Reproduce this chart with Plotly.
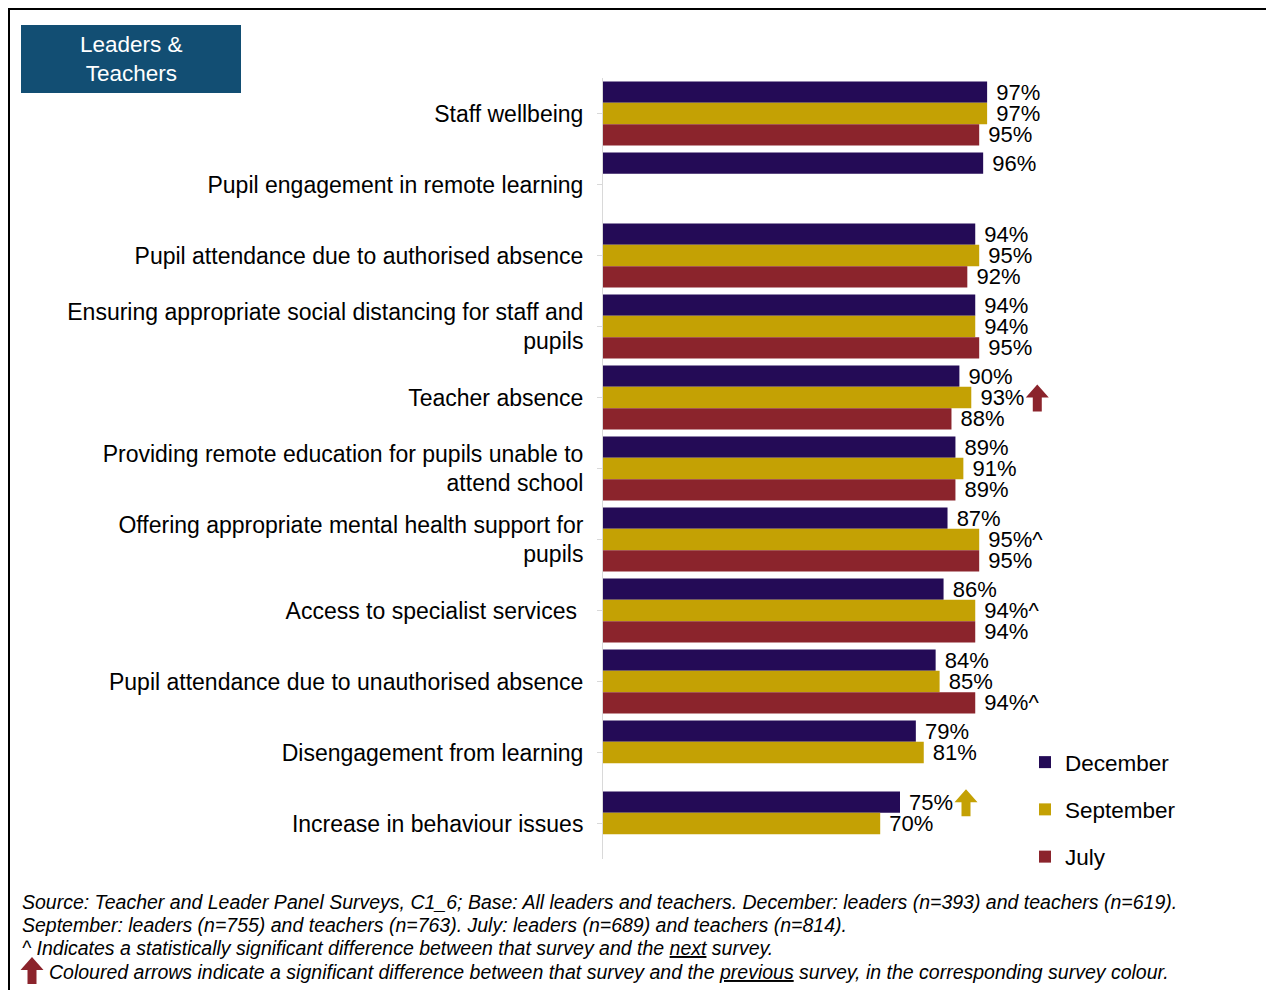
import plotly.graph_objects as go

categories = [
    "Staff wellbeing",
    "Pupil engagement in remote learning",
    "Pupil attendance due to authorised absence",
    "Ensuring appropriate social distancing for staff and<br>pupils",
    "Teacher absence",
    "Providing remote education for pupils unable to<br>attend school",
    "Offering appropriate mental health support for<br>pupils",
    "Access to specialist services\u00a0",
    "Pupil attendance due to unauthorised absence",
    "Disengagement from learning",
    "Increase in behaviour issues",
]
december = [97, 96, 94, 94, 90, 89, 87, 86, 84, 79, 75]
september = [97, None, 95, 94, 93, 91, 95, 94, 85, 81, 70]
july = [95, None, 92, 95, 88, 89, 95, 94, 94, None, None]
# "^" = significant difference vs next survey
dec_marks = ["", "", "", "", "", "", "", "", "", "", ""]
sep_marks = ["", "", "", "", "", "", "^", "^", "", "", ""]
jul_marks = ["", "", "", "", "", "", "", "", "^", "", ""]
# coloured arrows: (category index, series index, arrow colour series index)
arrows = [(4, 1, 2), (10, 0, 1)]

series_names = ["December", "September", "July"]
colors = ["#240B56", "#C4A104", "#8B242C"]
series_vals = [december, september, july]
series_marks = [dec_marks, sep_marks, jul_marks]

FONT = "Liberation Sans, Arial, sans-serif"
NB = "\u00a0"
XMAX = 100

fig = go.Figure()
for name, vals, marks, col in zip(series_names, series_vals, series_marks, colors):
    texts = [("" if v is None else f"{NB}{v}%{m}") for v, m in zip(vals, marks)]
    fig.add_trace(go.Bar(
        name=name, y=list(range(len(categories))), x=vals, orientation="h",
        marker=dict(color=col, line=dict(width=0)),
        text=texts, textposition="outside", cliponaxis=False, constraintext="none",
        textfont=dict(size=22, color="#000000", family=FONT),
        legendgroup=name,
    ))

# page offset (body margin) = 8px
OFF = 8
W, H = 1266, 982
L, T = 603 - OFF, 78 - OFF
pw, ph = 396, 781
R = W - L - pw
B = H - T - ph

def px(tx):
    return (tx - OFF - L) / pw

def py(ty):
    return (H - B - (ty - OFF)) / ph

n = len(categories)
def cat_paper_y(yval):
    # reversed axis: range [n-0.5, -0.5]
    return (n - 0.5 - yval) / n

shapes = []
# outer frame
shapes.append(dict(type="rect", xref="paper", yref="paper", x0=px(9), x1=px(1300),
                   y0=py(1020), y1=py(9), line=dict(color="#000000", width=2),
                   fillcolor="rgba(0,0,0,0)", layer="above"))
# title box
shapes.append(dict(type="rect", xref="paper", yref="paper", x0=px(21), x1=px(241),
                   y0=py(93), y1=py(25), line=dict(width=0), fillcolor="#124E73"))

def arrow(cx):
    return (f"M {cx-4.5},-14 L {cx+4.5},-14 L {cx+4.5},0 L {cx+11.5},0 "
            f"L {cx},13 L {cx-11.5},0 L {cx-4.5},0 Z")

bw = 0.9 / 3
for ci, si, colsi in arrows:
    val = series_vals[si][ci]
    shapes.append(dict(type="path", xref="paper", yref="paper", xsizemode="pixel", ysizemode="pixel",
                       xanchor=val / XMAX, yanchor=cat_paper_y(ci + (si - 1) * bw), path=arrow(66),
                       fillcolor=colors[colsi], line=dict(width=0)))
# footnote arrow
shapes.append(dict(type="path", xref="paper", yref="paper", xsizemode="pixel", ysizemode="pixel",
                   xanchor=px(32), yanchor=py(970), path=arrow(0),
                   fillcolor=colors[2], line=dict(width=0)))

annotations = [
    dict(xref="paper", yref="paper", x=px(131), y=py(59), text="Leaders &<br>Teachers",
         showarrow=False, font=dict(size=22.5, color="#FFFFFF", family=FONT),
         xanchor="center", yanchor="middle", align="center"),
]
foot = [
    (21, 902, "Source: Teacher and Leader Panel Surveys, C1_6; Base: All leaders and teachers. December: leaders (n=393) and teachers (n=619)."),
    (21, 925, "September: leaders (n=755) and teachers (n=763). July: leaders (n=689) and teachers (n=814)."),
    (21, 948, "^ Indicates a statistically significant difference between that survey and the <u>next</u> survey."),
    (48, 972, "Coloured arrows indicate a significant difference between that survey and the <u>previous</u> survey, in the corresponding survey colour."),
]
for tx, ty, t in foot:
    annotations.append(dict(xref="paper", yref="paper", x=px(tx), y=py(ty), text=f"<i>{t}</i>",
                            showarrow=False, xanchor="left", yanchor="middle", align="left",
                            xshift=-1, font=dict(size=19.5, color="#000000", family=FONT)))

fig.update_layout(
    width=W, height=H,
    margin=dict(l=L, r=R, t=T, b=B, autoexpand=False),
    paper_bgcolor="#FFFFFF", plot_bgcolor="#FFFFFF",
    barmode="group", bargap=0.1, bargroupgap=0,
    font=dict(family=FONT, size=22, color="#000000"),
    xaxis=dict(range=[0, XMAX], visible=False, showgrid=False, zeroline=False),
    yaxis=dict(tickmode="array", tickvals=list(range(n)), ticktext=categories,
               range=[n - 0.5, -0.5], showline=True, linecolor="#D9D9D9", linewidth=1,
               ticks="outside", tickson="boundaries", ticklen=5, tickcolor="#D9D9D9",
               showgrid=False, zeroline=False, ticklabelstandoff=9,
               tickfont=dict(size=23, color="#000000", family=FONT)),
    legend=dict(x=px(1025), y=py(741), xanchor="left", yanchor="top", orientation="v",
                traceorder="grouped", tracegroupgap=15, bgcolor="rgba(0,0,0,0)",
                font=dict(size=22.5, color="#000000", family=FONT)),
    shapes=shapes, annotations=annotations,
    showlegend=True,
)

fig.write_html("out.html")
